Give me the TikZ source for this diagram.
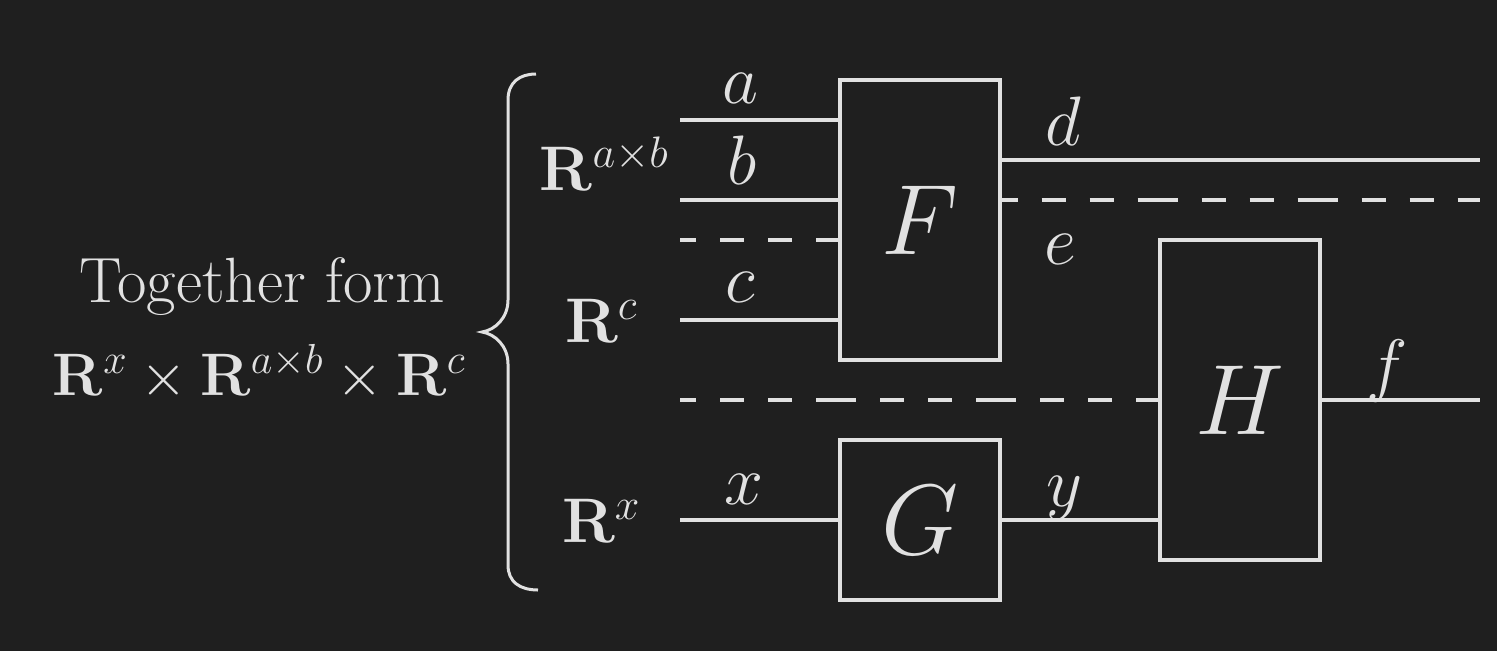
\documentclass[tikz,border=0pt]{standalone}
\usepackage{fix-cm}
\usetikzlibrary{calc}
\definecolor{bg}{RGB}{31,31,31}
\definecolor{fg}{RGB}{225,225,225}
\begin{document}
\begin{tikzpicture}[x=1pt,y=-1pt,
 wire/.style={draw=fg,line width=3.2pt},
 dashwire/.style={wire,dash pattern=on 40pt off 24pt on 24pt off 24pt on 24pt off 24pt,dash phase=24pt},
 blk/.style={draw=fg,line width=3.2pt,rectangle,inner sep=0pt,minimum width=160pt,text=fg,font=\fontsize{100}{110}\selectfont},
 lbl/.style={text=fg,anchor=base,inner sep=0pt,font=\fontsize{70}{80}\selectfont},
 sp/.style={text=fg,anchor=base,inner sep=0pt,font=\fontsize{63}{73}\selectfont},
 txt/.style={text=fg,anchor=base,inner sep=0pt,font=\fontsize{64}{74}\selectfont}]
\fill[bg] (0,0) rectangle (1497,651);
\useasboundingbox (0,0) rectangle (1497,651);
% blocks
\node[blk,minimum height=280pt] (F) at (920,220) {$F$};
\node[blk,minimum height=160pt] (G) at (920,520) {$G$};
\node[blk,minimum height=320pt] (H) at (1240,400) {$H$};
% free ends
\coordinate (inA) at (680,120);
\coordinate (inB) at (680,200);
\coordinate (inD1) at (680,240);
\coordinate (inC) at (680,320);
\coordinate (inD2) at (680,400);
\coordinate (inX) at (680,520);
\coordinate (outD) at (1480,160);
\coordinate (outDash) at (1480,200);
\coordinate (outF) at (1480,400);
% wires
\draw[wire] (inA) -- (inA -| F.west);
\draw[wire] (inB) -- (inB -| F.west);
\draw[dashwire] (inD1) -- (inD1 -| F.west);
\draw[wire] (inC) -- (inC -| F.west);
\draw[dashwire] (inD2) -- (H.west);
\draw[wire] (inX) -- (G.west);
\draw[wire] ($(F.east)+(0,-60)$) -- (outD);
\draw[dashwire] ($(F.east)+(0,-20)$) -- (outDash);
\draw[wire] ($(F.east)+(0,60)$) -- ($(F.east)+(0,60)$ -| H.west);
\draw[wire] (G.east) -- (G.east -| H.west);
\draw[wire] (H.east) -- (outF);
% brace
\draw[fg,line width=3pt] (536,74) .. controls (520,74) and (508,82) .. (508,100) -- (508,300)
  .. controls (508,318) and (495,330) .. (482,332)
  .. controls (495,334) and (508,346) .. (508,364) -- (508,565)
  .. controls (508,582) and (520,590) .. (538,590);
% wire labels
\node[lbl] (la) at (740,103) {$a$};
\node[lbl] (lb) at (742,184) {$b$};
\node[lbl] (lc) at (740,302) {$c$};
\node[lbl] (lx) at (744,504) {$x$};
\node[lbl] (ld) at (1063,145) {$d$};
\node[lbl] (le) at (1060,264) {$e$};
\node[lbl] (lf) at (1387,388) {$f$};
\node[lbl] (ly) at (1064,506) {$y$};
% spaces
\node[sp] (rab) at (604,190) {$\mathbf{R}^{a\times b}$};
\node[sp] (rc) at (601,342) {$\mathbf{R}^{c}$};
\node[sp] (rx) at (601,542) {$\mathbf{R}^{x}$};
% left text
\node[txt] (t1) at (262,302) {Together form};
\node[sp,font=\fontsize{60}{70}\selectfont] (t2) at (259,395) {$\mathbf{R}^x\times\mathbf{R}^{a\times b}\times\mathbf{R}^c$};
\end{tikzpicture}
\end{document}
